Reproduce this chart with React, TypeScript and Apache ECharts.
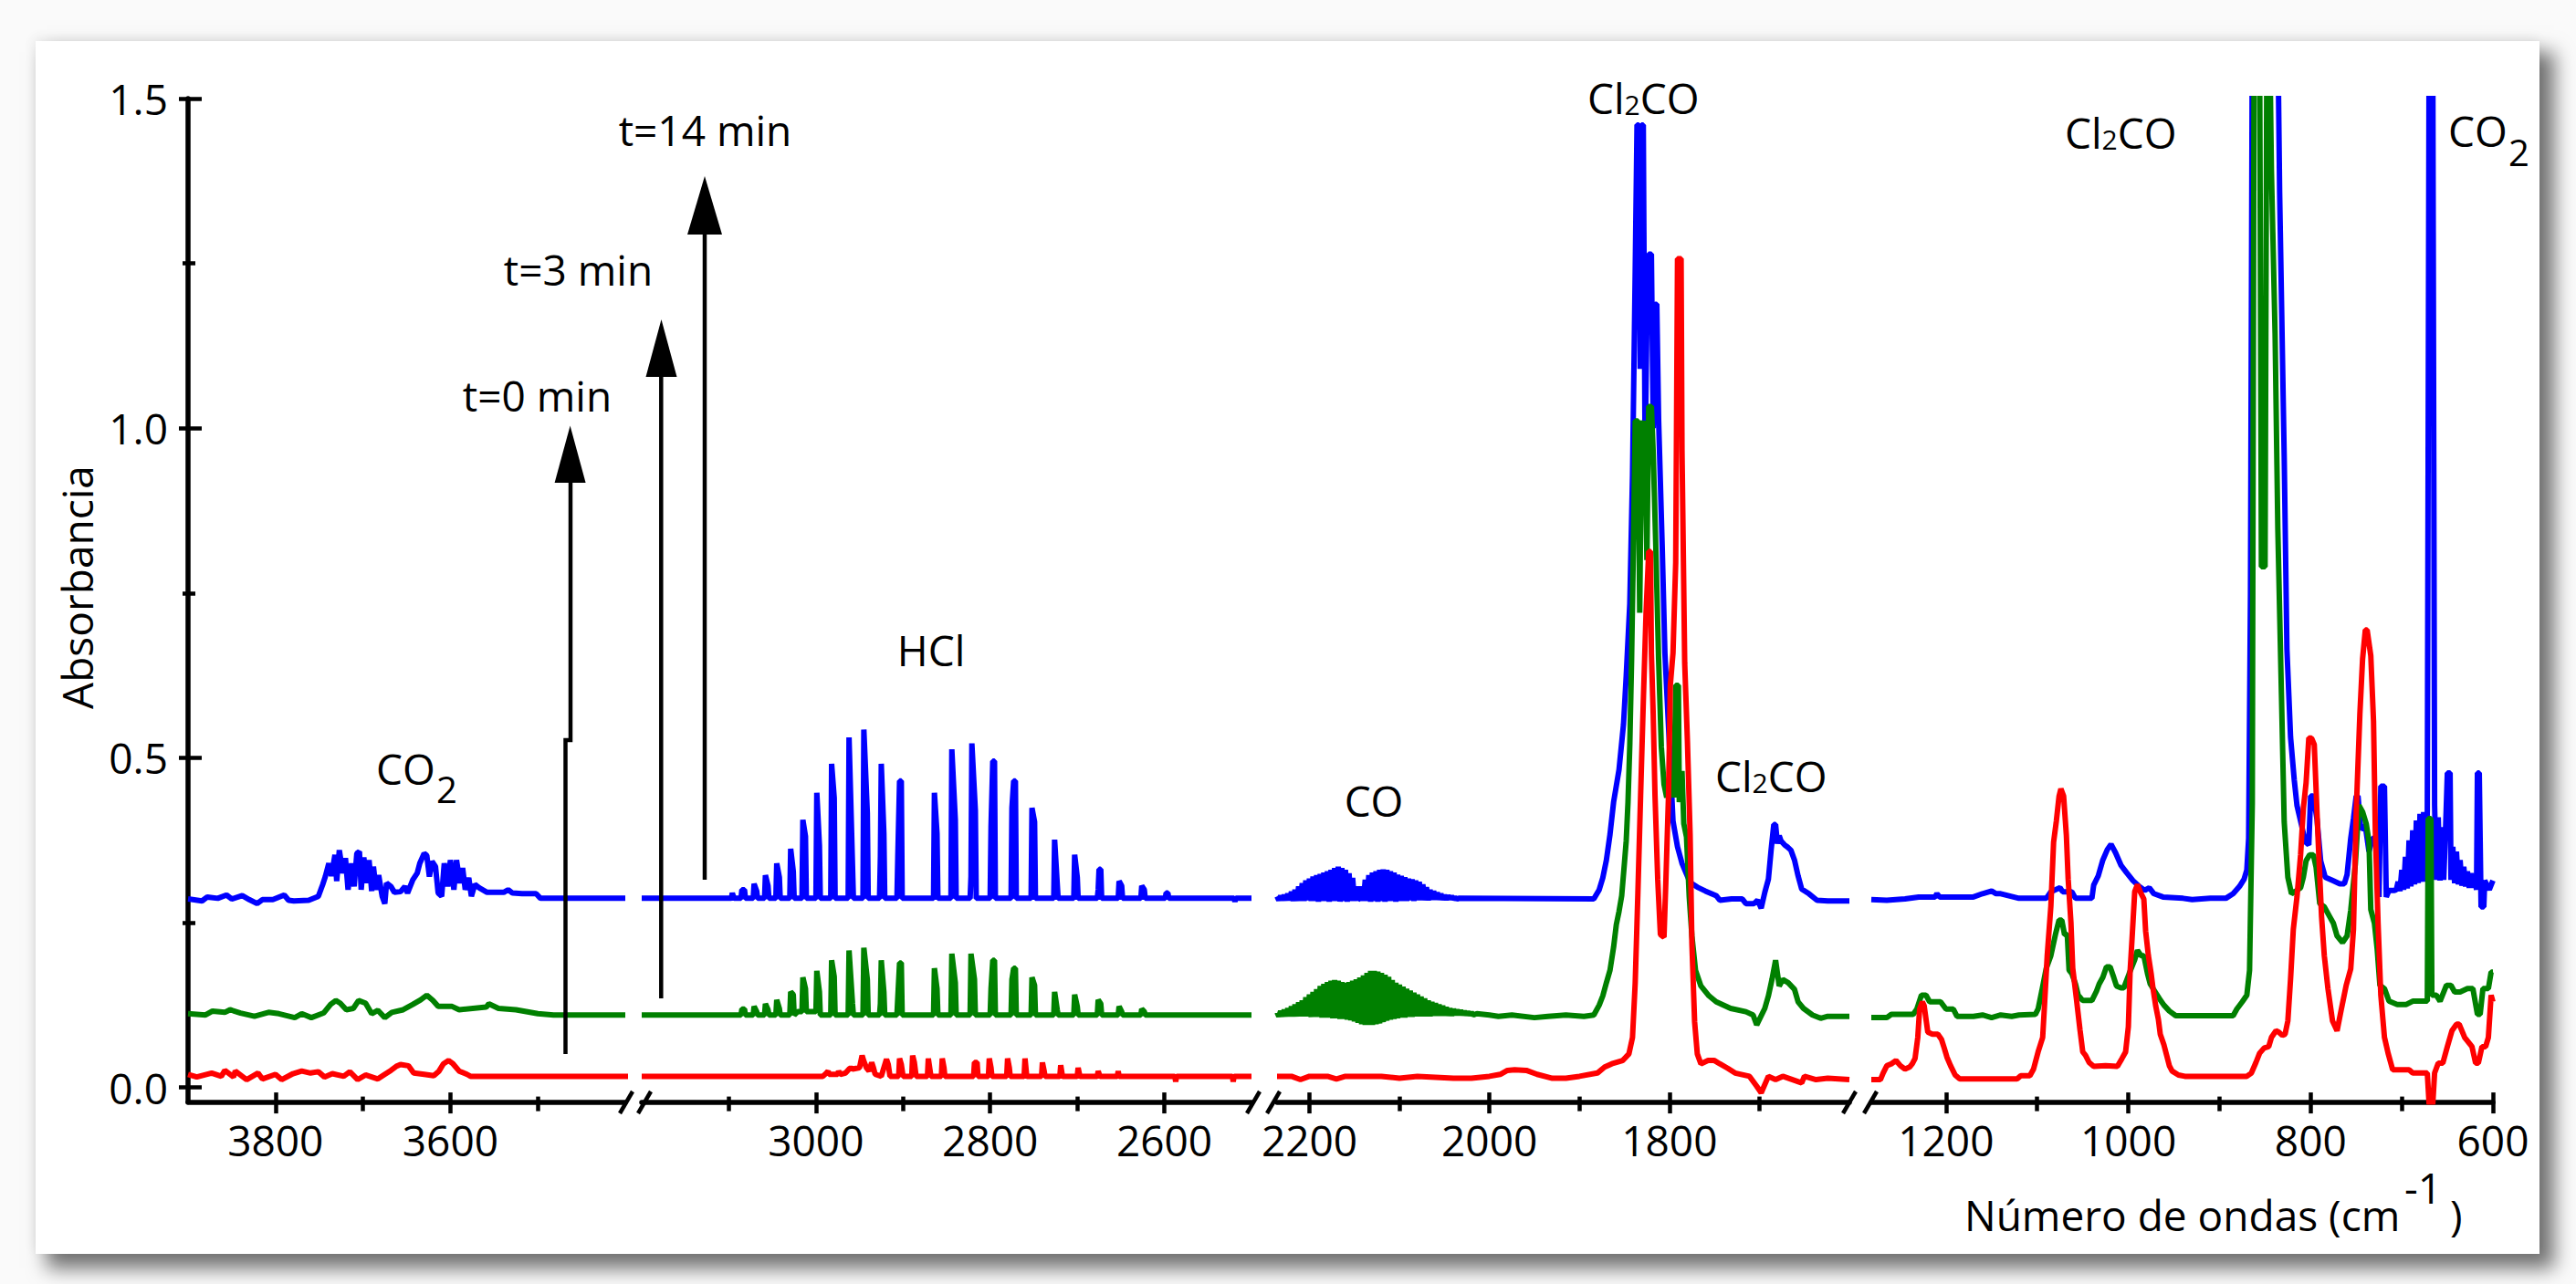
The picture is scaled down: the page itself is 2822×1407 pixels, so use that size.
import React, { useEffect, useRef } from "react";
import * as echarts from "echarts";

// ---------------- data ----------------
// wavenumber ranges of the four broken-axis segments [min, max]
const X_RANGES: [number, number][] = [
  [3400, 3900],
  [2500, 3200],
  [1600, 2236],
  [600, 1282],
];
const X_MAJOR: number[][] = [[3800, 3600], [3000, 2800, 2600], [2200, 2000, 1800], [1200, 1000, 800, 600]];
const X_MINOR: number[][] = [[3700, 3500], [3100, 2900, 2700], [2100, 1900, 1700], [1100, 900, 700]];
const Y_RANGE: [number, number] = [-0.022, 1.5];
const Y_MAJOR = [0, 0.5, 1, 1.5];
const Y_MINOR = [0.25, 0.75, 1.25];

// t = 14 min (blue)
const BLUE_A: [number, number][] = [
  [3900, .286], [3884, .283], [3878, .289], [3866, .287], [3856, .292], [3850, .286], [3838, .291], [3830, .285],
  [3821, .279], [3815, .285], [3803, .285], [3790, .292], [3785, .284], [3779, .283], [3762, .284], [3751, .290],
  [3746, .308], [3743, .320], [3739, .340], [3736, .321], [3732, .353], [3730, .313], [3727, .360], [3723, .325],
  [3720, .348], [3717, .300], [3713, .340], [3710, .305], [3707, .355], [3704, .358], [3702, .300], [3699, .349],
  [3696, .310], [3693, .345], [3690, .298], [3688, .335], [3685, .300], [3682, .322], [3678, .290], [3675, .279],
  [3673, .310], [3668, .305], [3664, .296], [3657, .297], [3652, .305], [3649, .295], [3643, .315], [3638, .325],
  [3635, .340], [3630, .355], [3627, .352], [3624, .320], [3621, .343], [3617, .335], [3614, .295], [3610, .290],
  [3607, .340], [3603, .305], [3600, .345], [3596, .300], [3593, .345], [3589, .310], [3586, .333], [3583, .300],
  [3579, .318], [3576, .290], [3572, .308], [3567, .303], [3558, .296], [3539, .296], [3534, .300], [3529, .295],
  [3518, .294], [3502, .294], [3497, .287], [3400, .287],
];
const BLUE_B: [number, number][] = [
  [3200, .287], [3097, .287], [3096, .295], [3094, .287], [3086, .287], [3085, .300], [3082, .300], [3081, .287],
  [3072, .287], [3071, .309], [3068, .298], [3067, .287], [3059, .287], [3058, .322], [3055, .306], [3054, .287],
  [3046, .287], [3045, .340], [3042, .319], [3041, .287], [3030, .287], [3029, .362], [3026, .328], [3025, .287],
  [3016, .287], [3015, .406], [3012, .381], [3011, .287], [3000, .287], [2999, .447], [2996, .367], [2995, .287],
  [2983, .287], [2982, .491], [2979, .439], [2978, .287], [2963, .287], [2962, .531], [2958, .336], [2957, .287],
  [2946, .287], [2945, .543], [2941, .416], [2940, .287], [2927, .287], [2926, .350], [2925, .491], [2922, .385],
  [2921, .287], [2907, .287], [2906, .350], [2904, .465], [2902, .465], [2901, .287], [2865, .287], [2864, .447],
  [2861, .385], [2860, .287], [2845, .287], [2844, .513], [2840, .406], [2839, .287], [2823, .287], [2822, .320],
  [2821, .522], [2817, .420], [2816, .287], [2800, .287], [2799, .395], [2797, .495], [2795, .495], [2794, .287],
  [2776, .287], [2775, .424], [2773, .465], [2771, .465], [2770, .287], [2753, .287], [2752, .424], [2749, .403],
  [2748, .287], [2727, .287], [2726, .376], [2723, .309], [2722, .287], [2704, .287], [2703, .353], [2700, .319],
  [2699, .287], [2677, .287], [2676, .300], [2675, .331], [2673, .331], [2672, .287], [2653, .287], [2652, .313],
  [2649, .306], [2648, .287], [2627, .287], [2626, .306], [2623, .300], [2622, .287], [2599, .287], [2598, .295],
  [2596, .295], [2595, .287], [2520, .287], [2519, .282], [2518, .287], [2500, .287],
];
const BLUE_C: [number, number][] = [
  [2236, .290], [2234, .284], [2232, .291], [2230, .284], [2228, .292], [2226, .284], [2224, .294], [2222, .284],
  [2220, .297], [2218, .283], [2216, .300], [2214, .283], [2212, .305], [2210, .283], [2208, .310], [2206, .283],
  [2204, .314], [2202, .284], [2200, .317], [2198, .283], [2196, .320], [2194, .283], [2192, .322], [2190, .282],
  [2188, .324], [2186, .283], [2184, .326], [2182, .283], [2180, .328], [2178, .282], [2176, .330], [2174, .283],
  [2172, .333], [2170, .283], [2168, .335], [2166, .282], [2164, .333], [2162, .283], [2160, .330], [2158, .282],
  [2156, .325], [2154, .283], [2152, .318], [2150, .283], [2148, .305], [2146, .285], [2144, .287], [2142, .305],
  [2140, .283], [2138, .315], [2136, .283], [2134, .322], [2132, .282], [2130, .326], [2128, .283], [2126, .328],
  [2124, .282], [2122, .330], [2120, .283], [2118, .331], [2116, .282], [2114, .330], [2112, .283], [2110, .328],
  [2108, .283], [2106, .326], [2104, .282], [2102, .323], [2100, .283], [2098, .321], [2096, .283], [2094, .319],
  [2092, .283], [2090, .317], [2088, .284], [2086, .316], [2084, .283], [2082, .314], [2080, .284], [2078, .312],
  [2076, .284], [2074, .308], [2072, .284], [2070, .304], [2068, .284], [2066, .300], [2064, .285], [2062, .298],
  [2060, .285], [2058, .296], [2056, .285], [2054, .294], [2052, .285], [2050, .292], [2048, .285], [2046, .291],
  [2044, .286], [2042, .290], [2040, .286], [2038, .288], [2036, .286], [2034, .287], [1884, .286], [1878, .300],
  [1874, .318], [1870, .345], [1866, .384], [1862, .433], [1856, .482], [1851, .551], [1848, .624], [1844, .734],
  [1841, .928], [1838, 1.239], [1836, 1.46], [1834, 1.46], [1832.5, 1.09], [1831, 1.46], [1829, 1.46], [1827, .96],
  [1825, 1.163], [1823, 1.264], [1820, 1.264], [1818, 1.0], [1816, 1.188], [1814, 1.188], [1812, 1.013], [1808, .82],
  [1805, .659], [1800, .52], [1796, .404], [1791, .365], [1786, .34], [1777, .311], [1769, .304], [1760, .298],
  [1748, .291], [1744, .284], [1731, .286], [1719, .286], [1715, .279], [1706, .279], [1702, .284], [1698, .272],
  [1694, .296], [1690, .316], [1687, .360], [1684, .399], [1682, .399], [1680, .370], [1678, .382], [1676, .374],
  [1672, .368], [1669, .365], [1665, .360], [1661, .345], [1657, .321], [1653, .301], [1645, .294], [1636, .284],
  [1624, .283], [1600, .283],
];
const BLUE_D: [number, number][] = [
  [1282, .285], [1265, .284], [1245, .286], [1230, .289], [1212, .289], [1210, .294], [1207, .289], [1170, .289],
  [1160, .294], [1150, .298], [1145, .294], [1140, .294], [1120, .287], [1090, .287], [1085, .297], [1075, .303],
  [1072, .297], [1062, .297], [1058, .287], [1040, .287], [1038, .307], [1033, .321], [1028, .345], [1023, .361],
  [1019, .369], [1014, .356], [1008, .337], [1002, .326], [995, .314], [988, .305], [982, .299], [977, .303],
  [972, .294], [962, .289], [940, .287], [930, .285], [910, .287], [893, .287], [885, .294], [878, .305],
  [873, .316], [870, .330], [868, .378], [866, .749], [864, 1.6], [836, 1.6], [834, 1.357], [829, .957],
  [826, .665], [822, .531], [818, .467], [815, .428], [810, .398], [806, .373], [802, .368], [800, .442],
  [797, .442], [793, .407], [789, .344], [784, .319], [776, .314], [768, .309], [763, .309], [760, .323],
  [756, .378], [753, .408], [750, .442], [748, .442], [745, .392], [740, .397], [736, .358], [732, .378],
  [727, .378], [725, .289], [723, .457], [719, .457], [717, .289], [714, .299], [708, .299], [706, .300],
  [704, .312], [702, .298], [700, .330], [698, .300], [696, .350], [694, .302], [692, .375], [690, .305],
  [688, .390], [686, .308], [684, .405], [682, .310], [680, .415], [678, .312], [676, .418], [674, .312],
  [672, .420], [670, 1.6], [666, 1.6], [664, .428], [662, .315], [660, .410], [658, .314], [656, .395],
  [654, .315], [652, .390], [650, .477], [647, .477], [646, .315], [644, .365], [642, .310], [640, .358],
  [638, .308], [636, .345], [634, .306], [632, .335], [630, .305], [628, .328], [626, .303], [624, .325],
  [622, .303], [620, .320], [618, .300], [617, .477], [615, .477], [613, .274], [610, .274], [609, .314],
  [604, .300], [600, .314],
];

// t = 3 min (green)
const GREEN_A: [number, number][] = [
  [3900, .112], [3880, .110], [3872, .116], [3858, .114], [3852, .118], [3840, .113], [3824, .108], [3808, .114],
  [3796, .112], [3778, .106], [3770, .112], [3759, .106], [3745, .113], [3737, .126], [3731, .132], [3726, .128],
  [3719, .118], [3711, .120], [3705, .132], [3697, .128], [3690, .112], [3683, .117], [3675, .106], [3667, .114],
  [3654, .118], [3643, .126], [3634, .133], [3627, .140], [3620, .132], [3614, .123], [3598, .123], [3590, .118],
  [3559, .122], [3556, .127], [3545, .120], [3525, .118], [3500, .112], [3482, .110], [3400, .110],
];
const GREEN_B: [number, number][] = [
  [3200, .110], [3086, .110], [3085, .119], [3082, .119], [3081, .110], [3072, .110], [3071, .123], [3068, .115],
  [3067, .110], [3059, .110], [3058, .127], [3055, .118], [3054, .110], [3046, .110], [3045, .133], [3042, .120],
  [3041, .110], [3030, .110], [3029, .145], [3026, .141], [3025, .110], [3021, .115], [3016, .115], [3015, .167],
  [3012, .150], [3011, .115], [3000, .115], [2999, .177], [2996, .145], [2995, .110], [2983, .110], [2982, .193],
  [2979, .168], [2978, .110], [2963, .110], [2962, .208], [2958, .127], [2957, .110], [2946, .110], [2945, .212],
  [2941, .164], [2940, .110], [2927, .110], [2926, .127], [2925, .193], [2922, .145], [2921, .110], [2907, .110],
  [2906, .137], [2904, .189], [2902, .189], [2901, .110], [2865, .110], [2864, .181], [2861, .150], [2860, .110],
  [2845, .110], [2844, .203], [2840, .159], [2839, .110], [2823, .110], [2822, .203], [2818, .164], [2817, .110],
  [2800, .110], [2799, .150], [2797, .193], [2795, .193], [2794, .110], [2776, .110], [2775, .164], [2773, .181],
  [2771, .181], [2770, .110], [2753, .110], [2752, .167], [2749, .155], [2748, .110], [2727, .110], [2726, .145],
  [2723, .118], [2722, .110], [2704, .110], [2703, .141], [2700, .123], [2699, .110], [2677, .110], [2676, .133],
  [2673, .127], [2672, .110], [2653, .110], [2652, .123], [2649, .115], [2648, .110], [2627, .110], [2626, .119],
  [2623, .115], [2622, .110], [2500, .110],
];
const GREEN_C: [number, number][] = [
  [2236, .114], [2234, .108], [2232, .116], [2230, .108], [2228, .118], [2226, .108], [2224, .120], [2222, .108],
  [2220, .123], [2218, .108], [2216, .126], [2214, .108], [2212, .129], [2210, .108], [2208, .132], [2206, .108],
  [2204, .137], [2202, .108], [2200, .141], [2198, .107], [2196, .145], [2194, .107], [2192, .149], [2190, .107],
  [2188, .154], [2186, .106], [2184, .157], [2182, .106], [2180, .160], [2178, .106], [2176, .162], [2174, .105],
  [2172, .163], [2170, .105], [2168, .162], [2166, .104], [2164, .160], [2162, .104], [2160, .159], [2158, .103],
  [2156, .160], [2154, .102], [2152, .162], [2150, .100], [2148, .164], [2146, .098], [2144, .167], [2142, .096],
  [2140, .170], [2138, .095], [2136, .174], [2134, .095], [2132, .177], [2130, .095], [2128, .177], [2126, .096],
  [2124, .176], [2122, .097], [2120, .174], [2118, .099], [2116, .171], [2114, .101], [2112, .168], [2110, .103],
  [2108, .163], [2106, .104], [2104, .159], [2102, .105], [2100, .156], [2098, .106], [2096, .153], [2094, .106],
  [2092, .150], [2090, .107], [2088, .147], [2086, .107], [2084, .144], [2082, .108], [2080, .141], [2078, .108],
  [2076, .138], [2074, .108], [2072, .135], [2070, .108], [2068, .132], [2066, .108], [2064, .130], [2062, .109],
  [2060, .128], [2058, .109], [2056, .126], [2054, .109], [2052, .124], [2050, .109], [2048, .122], [2046, .109],
  [2044, .120], [2042, .109], [2040, .119], [2038, .110], [2036, .118], [2034, .110], [2032, .117], [2030, .110],
  [2028, .116], [2026, .110], [2024, .115], [2022, .110], [2020, .114], [2018, .110], [2014, .112], [2000, .110],
  [1990, .108], [1975, .110], [1950, .106], [1935, .108], [1915, .110], [1895, .108], [1884, .110], [1878, .125],
  [1874, .139], [1870, .159], [1866, .178], [1862, .213], [1859, .247], [1856, .267], [1853, .291], [1850, .340],
  [1848, .374], [1846, .433], [1844, .520], [1842, .650], [1840, .820], [1838, 1.011], [1835, 1.011], [1833, .720],
  [1831, 1.0], [1829, 1.011], [1827, .963], [1825, .800], [1823, 1.033], [1820, 1.033], [1818, .963], [1815, .815],
  [1812, .649], [1809, .517], [1806, .460], [1803, .440], [1799, .480], [1795, .440], [1793, .610], [1790, .610],
  [1789, .433], [1786, .480], [1784, .400], [1781, .380], [1778, .290], [1775, .230], [1771, .178], [1765, .154],
  [1756, .139], [1748, .130], [1732, .120], [1715, .115], [1707, .110], [1703, .095], [1694, .120], [1690, .139],
  [1686, .164], [1682, .193], [1678, .154], [1674, .164], [1668, .159], [1661, .149], [1657, .130], [1651, .120],
  [1641, .110], [1632, .105], [1624, .108], [1600, .108],
];
const GREEN_D: [number, number][] = [
  [1282, .106], [1265, .106], [1260, .111], [1236, .111], [1232, .119], [1227, .140], [1222, .140], [1218, .130],
  [1206, .130], [1200, .119], [1192, .119], [1188, .108], [1170, .108], [1160, .110], [1150, .106], [1140, .110],
  [1128, .108], [1120, .110], [1102, .111], [1099, .119], [1095, .146], [1090, .181], [1085, .200], [1080, .232],
  [1076, .254], [1073, .254], [1070, .232], [1067, .232], [1065, .178], [1062, .173], [1058, .157], [1055, .140],
  [1050, .132], [1040, .132], [1035, .146], [1032, .157], [1028, .167], [1024, .183], [1020, .183], [1016, .167],
  [1013, .154], [1008, .151], [1005, .151], [999, .173], [993, .194], [990, .208], [986, .200], [983, .200],
  [979, .173], [976, .157], [971, .146], [966, .135], [961, .125], [955, .116], [948, .109], [885, .109],
  [881, .119], [875, .130], [870, .140], [867, .178], [864, .431], [862, 1.6], [856, 1.6], [854, .790],
  [850, .790], [848, 1.6], [845, 1.6], [843, 1.39], [841, 1.266], [839, 1.143], [836, .848], [832, .595],
  [829, .403], [825, .319], [821, .294], [816, .298], [811, .303], [808, .319], [805, .344], [801, .353],
  [797, .353], [794, .334], [790, .279], [785, .274], [779, .259], [775, .249], [771, .230], [765, .220],
  [760, .230], [756, .269], [751, .338], [747, .428], [743, .418], [739, .400], [736, .373], [734, .270],
  [730, .249], [727, .210], [724, .155], [719, .150], [714, .131], [705, .126], [695, .126], [688, .131],
  [672, .131], [671, .408], [668, .408], [667, .140], [662, .140], [658, .131], [651, .155], [646, .155],
  [642, .145], [636, .145], [628, .150], [622, .150], [617, .111], [614, .111], [611, .150], [605, .150],
  [602, .175], [600, .175],
];

// t = 0 min (red)
const RED_A: [number, number][] = [
  [3900, .020], [3890, .016], [3873, .022], [3862, .017], [3858, .026], [3848, .016], [3846, .025], [3833, .012],
  [3820, .022], [3815, .013], [3800, .020], [3793, .012], [3780, .021], [3770, .025], [3760, .022], [3751, .024],
  [3744, .016], [3735, .021], [3722, .017], [3715, .024], [3706, .012], [3697, .019], [3683, .013], [3675, .020],
  [3668, .026], [3662, .032], [3657, .035], [3648, .033], [3642, .022], [3630, .020], [3619, .018], [3613, .025],
  [3608, .036], [3602, .041], [3597, .036], [3590, .025], [3581, .020], [3577, .017], [3400, .017], [3382, .017],
];
const RED_B: [number, number][] = [
  [3200, .017], [2992, .017], [2988, .022], [2986, .025], [2985, .020], [2975, .020], [2974, .025], [2972, .020],
  [2966, .022], [2962, .028], [2960, .030], [2958, .028], [2950, .030], [2947, .0485], [2945, .040], [2942, .030],
  [2939, .025], [2936, .038], [2934, .030], [2932, .020], [2925, .017], [2919, .043], [2917, .035], [2915, .017],
  [2905, .017], [2904, .044], [2902, .035], [2900, .017], [2890, .017], [2889, .0485], [2887, .038], [2885, .017],
  [2872, .017], [2871, .044], [2868, .017], [2856, .017], [2855, .044], [2853, .030], [2852, .017], [2819, .017],
  [2818, .038], [2815, .038], [2814, .017], [2802, .017], [2801, .044], [2799, .030], [2798, .017], [2781, .017],
  [2780, .044], [2778, .030], [2777, .017], [2761, .017], [2760, .044], [2758, .017], [2741, .017], [2740, .038],
  [2738, .025], [2737, .017], [2720, .017], [2719, .034], [2717, .017], [2700, .017], [2699, .030], [2697, .017],
  [2677, .017], [2676, .025], [2674, .017], [2654, .017], [2653, .025], [2652, .017], [2588, .017], [2587, .009],
  [2586, .017], [2522, .017], [2521, .009], [2520, .017], [2500, .017],
];
const RED_C: [number, number][] = [
  [2236, .017], [2220, .017], [2210, .012], [2200, .017], [2180, .017], [2170, .013], [2160, .017], [2120, .017],
  [2100, .014], [2080, .017], [2040, .014], [2020, .014], [2000, .017], [1988, .020], [1980, .026], [1972, .027],
  [1959, .026], [1947, .020], [1930, .014], [1915, .014], [1900, .017], [1880, .022], [1872, .031], [1864, .036],
  [1852, .041], [1845, .051], [1841, .076], [1838, .159], [1835, .296], [1832, .443], [1829, .585], [1826, .718],
  [1823, .813], [1821, .813], [1820, .659], [1818, .566], [1816, .443], [1813, .316], [1810, .232], [1806, .228],
  [1804, .310], [1801, .443], [1799, .610], [1796, .659], [1793, .796], [1791, 1.257], [1787, 1.257], [1786, .967],
  [1783, .644], [1780, .526], [1777, .384], [1775, .218], [1772, .100], [1769, .051], [1765, .036], [1757, .041],
  [1750, .041], [1744, .036], [1735, .029], [1727, .022], [1711, .017], [1703, .002], [1698, -.008], [1690, .017],
  [1682, .012], [1674, .017], [1653, .007], [1650, .017], [1637, .012], [1624, .014], [1600, .012],
];
const RED_D: [number, number][] = [
  [1282, .012], [1272, .012], [1269, .022], [1265, .033], [1260, .036], [1255, .041], [1250, .033], [1245, .028],
  [1240, .031], [1237, .036], [1234, .044], [1231, .076], [1229, .119], [1226, .130], [1224, .124], [1220, .084],
  [1215, .081], [1209, .081], [1205, .073], [1202, .060], [1199, .046], [1195, .033], [1190, .019], [1185, .013],
  [1122, .013], [1118, .018], [1108, .018], [1104, .028], [1099, .054], [1094, .076], [1092, .124], [1089, .200],
  [1085, .275], [1082, .372], [1079, .404], [1076, .442], [1074, .453], [1071, .442], [1068, .383], [1066, .316],
  [1063, .251], [1061, .181], [1057, .135], [1053, .087], [1050, .054], [1047, .049], [1043, .038], [1038, .032],
  [1025, .033], [1012, .032], [1007, .044], [1003, .054], [1000, .092], [998, .178], [996, .224], [993, .297],
  [990, .308], [987, .297], [983, .286], [981, .237], [978, .200], [975, .173], [973, .151], [970, .124],
  [967, .103], [965, .081], [961, .065], [958, .049], [955, .033], [952, .025], [945, .019], [938, .017],
  [870, .017], [865, .022], [860, .038], [856, .052], [851, .060], [846, .062], [843, .076], [838, .086],
  [835, .084], [831, .079], [828, .081], [825, .101], [822, .165], [819, .240], [815, .289], [811, .353],
  [808, .423], [805, .462], [802, .530], [799, .530], [796, .520], [792, .383], [788, .259], [785, .200],
  [781, .150], [776, .101], [771, .086], [766, .121], [761, .155], [756, .180], [753, .240], [750, .418],
  [746, .566], [743, .650], [740, .694], [738, .694], [734, .655], [731, .556], [729, .388], [726, .249],
  [723, .140], [719, .076], [715, .052], [710, .027], [692, .027], [688, .022], [672, .022], [670, -.025],
  [666, -.025], [664, .022], [660, .037], [655, .037], [650, .062], [645, .086], [640, .096], [637, .096],
  [631, .076], [623, .062], [619, .037], [616, .037], [612, .062], [608, .062], [605, .076], [602, .140],
  [600, .130],
];

// ---------------- layout & style ----------------
const W = 2822;
const H = 1407;
const GRID_LEFT = [206, 703, 1399, 2050];
const GRID_WIDTH = [479, 668, 627, 681];
const GRID_TOP = 108;
const GRID_HEIGHT = 1099.6;
const FONT = "'Open Sans', sans-serif";
const BLUE = "#0000ff";
const GREEN = "#008000";
const RED = "#ff0000";
const LINE_W = 6;

function txt(text: string, x: number, y: number, size: number, align = "center", extra: any = {}) {
  return {
    type: "text",
    x,
    y,
    z: 100,
    silent: true,
    ...extra,
    style: {
      text,
      fontSize: size,
      fontFamily: FONT,
      fill: "#000",
      align,
      textAlign: align,
      verticalAlign: "middle",
      textVerticalAlign: "middle",
    },
  };
}

function cl2co(x: number, y: number) {
  return {
    type: "text",
    x,
    y,
    z: 100,
    silent: true,
    style: {
      text: "{a|Cl}{b|2}{a|CO}",
      fill: "#000",
      align: "left",
      textAlign: "left",
      verticalAlign: "middle",
      textVerticalAlign: "middle",
      rich: {
        a: { fontSize: 46, fontFamily: FONT, fill: "#000", verticalAlign: "bottom" },
        b: { fontSize: 30, fontFamily: FONT, fill: "#000", verticalAlign: "bottom" },
      },
    },
  };
}

function arrow(x: number, tip: number, base: number, half: number) {
  return {
    type: "polygon",
    z: 100,
    silent: true,
    shape: { points: [[x, tip], [x - half, base], [x + half, base]] },
    style: { fill: "#000" },
  };
}

function slash(cx: number) {
  return {
    type: "line",
    z: 100,
    silent: true,
    shape: { x1: cx - 7, y1: 1220, x2: cx + 7, y2: 1196 },
    style: { stroke: "#000", lineWidth: 4.5 },
  };
}

function buildOption() {
  const grid = GRID_LEFT.map((l, i) => ({ left: l, width: GRID_WIDTH[i], top: GRID_TOP, height: GRID_HEIGHT }));
  const tickStyle = { color: "#000", width: 4.5 };
  const xAxis: any[] = [];
  X_RANGES.forEach(([mn, mx], i) => {
    const base = {
      type: "value",
      gridIndex: i,
      min: mn,
      max: mx,
      inverse: true,
      position: "bottom",
      splitLine: { show: false },
    };
    xAxis.push({
      ...base,
      axisLine: { show: true, onZero: false, lineStyle: { color: "#000", width: 5.5 } },
      axisTick: { show: false },
      axisLabel: {
        show: true,
        customValues: X_MAJOR[i],
        formatter: (v: number) => String(v),
        fontSize: 46,
        fontFamily: FONT,
        color: "#000",
        margin: 18,
      },
    });
    xAxis.push({
      ...base,
      offset: -10.5,
      axisLine: { show: false, onZero: false },
      axisLabel: { show: false },
      axisTick: { show: true, customValues: X_MAJOR[i], length: 23, lineStyle: tickStyle },
    });
    xAxis.push({
      ...base,
      offset: -6,
      axisLine: { show: false, onZero: false },
      axisLabel: { show: false },
      axisTick: { show: true, customValues: X_MINOR[i], length: 16, lineStyle: tickStyle },
    });
  });

  const yBase = { type: "value", min: Y_RANGE[0], max: Y_RANGE[1], splitLine: { show: false } };
  const yAxis: any[] = [
    {
      ...yBase,
      gridIndex: 0,
      position: "left",
      axisLine: { show: true, onZero: false, lineStyle: { color: "#000", width: 5.5 } },
      axisTick: { show: false },
      axisLabel: {
        show: true,
        customValues: Y_MAJOR,
        formatter: (v: number) => v.toFixed(1),
        fontSize: 46,
        fontFamily: FONT,
        color: "#000",
        margin: 22,
        padding: [0, 0, 13, 0],
      },
    },
    {
      ...yBase,
      gridIndex: 0,
      position: "left",
      offset: -15,
      axisLine: { show: false, onZero: false },
      axisLabel: { show: false },
      axisTick: { show: true, customValues: Y_MAJOR, length: 25, lineStyle: tickStyle },
    },
    {
      ...yBase,
      gridIndex: 0,
      position: "left",
      offset: -8,
      axisLine: { show: false, onZero: false },
      axisLabel: { show: false },
      axisTick: { show: true, customValues: Y_MINOR, length: 14, lineStyle: tickStyle },
    },
    { ...yBase, gridIndex: 1, show: false },
    { ...yBase, gridIndex: 2, show: false },
    { ...yBase, gridIndex: 3, show: false },
  ];

  const spectra: { data: [number, number][]; color: string; seg: number; clip: boolean }[] = [
    { data: BLUE_A, color: BLUE, seg: 0, clip: true },
    { data: BLUE_B, color: BLUE, seg: 1, clip: true },
    { data: BLUE_C, color: BLUE, seg: 2, clip: true },
    { data: BLUE_D, color: BLUE, seg: 3, clip: true },
    { data: GREEN_A, color: GREEN, seg: 0, clip: true },
    { data: GREEN_B, color: GREEN, seg: 1, clip: true },
    { data: GREEN_C, color: GREEN, seg: 2, clip: true },
    { data: GREEN_D, color: GREEN, seg: 3, clip: true },
    { data: RED_A, color: RED, seg: 0, clip: false },
    { data: RED_B, color: RED, seg: 1, clip: true },
    { data: RED_C, color: RED, seg: 2, clip: true },
    { data: RED_D, color: RED, seg: 3, clip: true },
  ];
  const series = spectra.map((s) => ({
    type: "line",
    xAxisIndex: s.seg * 3,
    yAxisIndex: s.seg === 0 ? 0 : 2 + s.seg,
    data: s.data,
    showSymbol: false,
    symbol: "none",
    clip: s.clip,
    silent: true,
    lineStyle: { color: s.color, width: LINE_W },
    emphasis: { disabled: true },
  }));

  const graphic: any[] = [
    // arrows
    {
      type: "polyline",
      z: 100,
      silent: true,
      shape: { points: [[619.5, 1155], [619.5, 811], [625, 811], [625, 520]] },
      style: { stroke: "#000", lineWidth: 4.5, fill: "none" },
    },
    arrow(624.6, 466.5, 529, 17),
    {
      type: "line",
      z: 100,
      silent: true,
      shape: { x1: 724.3, y1: 1094, x2: 724.3, y2: 405 },
      style: { stroke: "#000", lineWidth: 4.5 },
    },
    arrow(724.5, 350, 413, 17),
    {
      type: "line",
      z: 100,
      silent: true,
      shape: { x1: 772, y1: 964, x2: 772, y2: 250 },
      style: { stroke: "#000", lineWidth: 4.5 },
    },
    arrow(772, 193, 257, 19),
    // axis breaks
    slash(686), slash(706), slash(1373), slash(1395), slash(2026), slash(2049),
    // annotations
    txt("t=14 min", 772.5, 142, 46),
    txt("t=3 min", 633.5, 295, 46),
    txt("t=0 min", 588.5, 433, 46),
    txt("CO", 412, 842, 46, "left"),
    txt("2", 489.5, 864.5, 40),
    txt("HCl", 1020, 712, 46),
    txt("CO", 1505, 877, 46),
    cl2co(1739, 106.6),
    cl2co(2262, 144.6),
    cl2co(1879, 849.6),
    txt("CO", 2682, 143, 46, "left"),
    txt("2", 2759.5, 166.5, 40),
    txt("Absorbancia", 83.5, 643.5, 46, "center", { rotation: Math.PI / 2 }),
    txt("Número de ondas (cm", 2152, 1331, 46, "left"),
    txt("-1", 2634, 1301, 46, "left"),
    txt(")", 2684, 1331, 46, "left"),
  ];

  return { animation: false, grid, xAxis, yAxis, series, graphic };
}

export default function App() {
  const ref = useRef<HTMLDivElement>(null);
  useEffect(() => {
    document.body.style.margin = "0";
    if (!ref.current) return;
    const chart = echarts.init(ref.current, null, { renderer: "svg", width: W, height: H });
    chart.setOption(buildOption() as any);
    return () => chart.dispose();
  }, []);
  return (
    <div style={{ position: "relative", width: W, height: H, background: "#fafafa", overflow: "hidden" }}>
      <div
        style={{
          position: "absolute",
          left: 39,
          top: 45,
          width: 2743,
          height: 1329,
          background: "#ffffff",
          boxShadow: "14px 14px 20px 2px rgba(0,0,0,0.55), -2px -4px 12px rgba(0,0,0,0.06)",
        }}
      />
      <div ref={ref} style={{ position: "absolute", left: 0, top: 0, width: W, height: H }} />
    </div>
  );
}
